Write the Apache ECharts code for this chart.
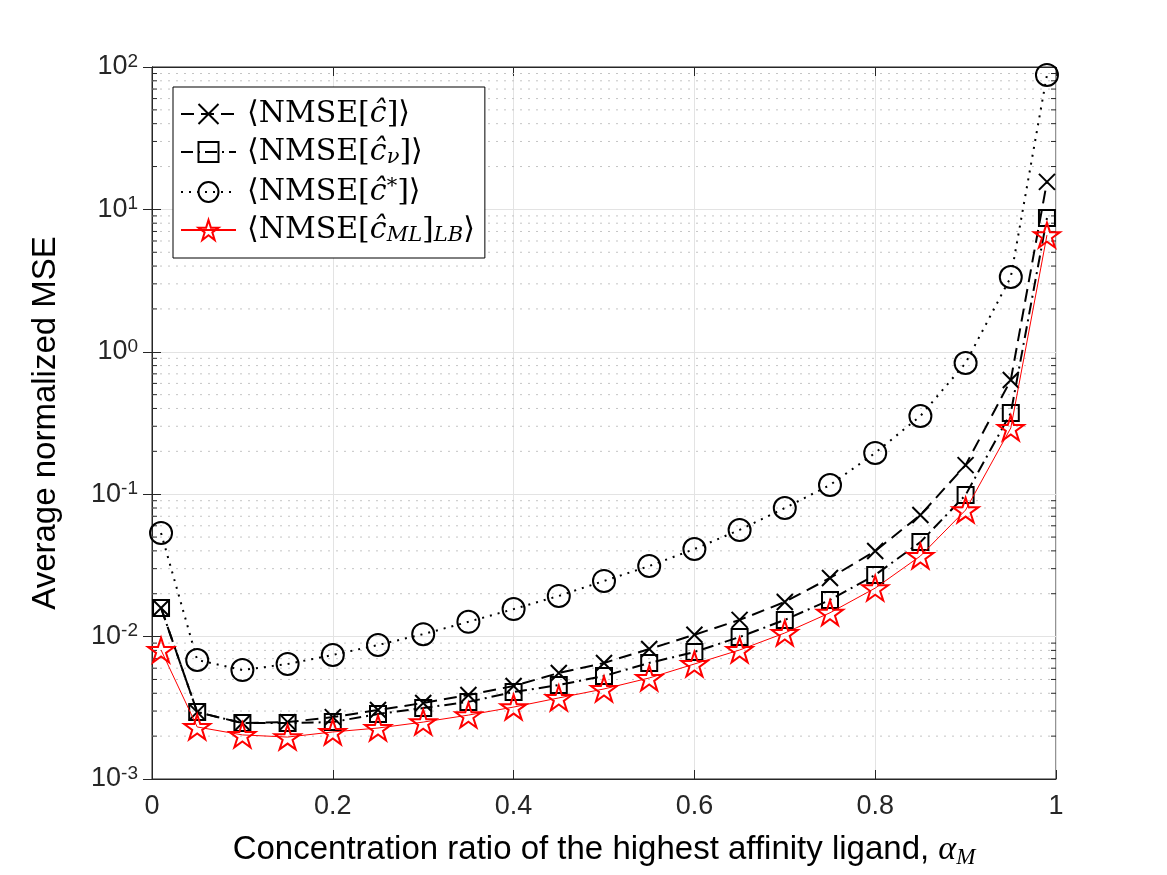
<!DOCTYPE html>
<html>
<head>
<meta charset="utf-8">
<script src="https://cdn.jsdelivr.net/npm/echarts@6/dist/echarts.min.js"></script>
<style>
  html, body { margin: 0; padding: 0; background: #fff; }
  #chart { width: 1167px; height: 875px; }
</style>
</head>
<body>
<div id="chart"></div>
<script>
// alpha_M values (x axis)
const alphaM = [0.01, 0.05, 0.1, 0.15, 0.2, 0.25, 0.3, 0.35, 0.4, 0.45, 0.5,
                0.55, 0.6, 0.65, 0.7, 0.75, 0.8, 0.85, 0.9, 0.95, 0.99];

// <NMSE[c^]>
const nmseC = [0.0159, 0.00295, 0.00247, 0.00251, 0.00272, 0.00305, 0.00342, 0.00389, 0.0045, 0.00555, 0.00653,
               0.00818, 0.0103, 0.0131, 0.0175, 0.0258, 0.0399, 0.0714, 0.160, 0.634, 15.6];
// <NMSE[c^_nu]>
const nmseCnu = [0.0159, 0.00295, 0.00247, 0.00247, 0.00251, 0.00286, 0.00315, 0.00348, 0.00408, 0.00457, 0.00529,
                 0.00653, 0.0078, 0.00993, 0.0131, 0.0181, 0.0271, 0.0461, 0.0987, 0.372, 8.7];
// <NMSE[c^*]>
const nmseCstar = [0.0534, 0.00685, 0.00582, 0.00642, 0.00743, 0.00873, 0.0104, 0.0127, 0.0156, 0.0193, 0.0246,
                   0.0313, 0.0412, 0.0561, 0.080, 0.116, 0.195, 0.354, 0.834, 3.35, 88];
// <NMSE[c^_ML]_LB>
const nmseLB = [0.00805, 0.00232, 0.00204, 0.00197, 0.00214, 0.00228, 0.00251, 0.00281, 0.0032, 0.00371, 0.00429,
                0.00512, 0.00642, 0.00805, 0.0106, 0.0147, 0.0219, 0.0368, 0.0774, 0.292, 6.6];

// y axis range and minor ticks (2..9 of each decade)
const yMin = 0.001, yMax = 100;
const minorTicks = [];
for (let e = -3; e < 2; e++) {
    for (let m = 2; m <= 9; m++) minorTicks.push(m * Math.pow(10, e));
}

const legendLabels = {
    c: '{t|⟨NMSE[}{i|ĉ}{t|]⟩}',
    cnu: '{t|⟨NMSE[}{i|ĉ}{s|ν}{t|]⟩}',
    cstar: '{t|⟨NMSE[}{i|ĉ}{p|*}{t|]⟩}',
    cml: '{t|⟨NMSE[}{i|ĉ}{s|ML}{t|]}{s|LB}{t|⟩}'
};

const crossPath = 'path://M0,0L10,10M0,10L10,0';
const starPath = 'path://M10,0L12.245,6.91L19.511,6.91L13.633,11.18L15.878,18.09L10,13.82L4.122,18.09L6.367,11.18L0.489,6.91L7.755,6.91Z';

const axisColor = '#262626';
const serif = "'DejaVu Serif', 'Liberation Serif', serif";
const mathSerif = "'Liberation Serif', 'DejaVu Serif', serif";
const sans = "'Liberation Sans', Arial, sans-serif";

function pairs(ys) {
    return alphaM.map((x, i) => [x, ys[i]]);
}

let chart = echarts.init(document.getElementById('chart'), null, { renderer: 'canvas' });

let option = {
    animation: false,
    backgroundColor: '#fff',
    grid: {
        left: 152, top: 67, right: 111, bottom: 96,
        show: true, borderColor: axisColor, borderWidth: 1
    },
    legend: {
        orient: 'vertical',
        left: 173, top: 87,
        data: ['c', 'cnu', 'cstar', 'cml'],
        backgroundColor: '#fff',
        borderColor: '#000',
        borderWidth: 1,
        padding: [12, 10, 12, 7],
        itemWidth: 55,
        itemHeight: 25,
        itemGap: 8,
        formatter: name => legendLabels[name],
        textStyle: {
            color: '#000',
            padding: [0, 0, 0, 6],
            rich: {
                t: { fontFamily: serif, fontSize: 30, lineHeight: 32, color: '#000' },
                i: { fontFamily: serif, fontStyle: 'italic', fontSize: 30, lineHeight: 32, color: '#000' },
                s: { fontFamily: serif, fontStyle: 'italic', fontSize: 21, lineHeight: 12, verticalAlign: 'bottom', color: '#000' },
                p: { fontFamily: serif, fontSize: 21, lineHeight: 14, verticalAlign: 'top', color: '#000' }
            }
        }
    },
    xAxis: [{
        type: 'value',
        min: 0, max: 1, interval: 0.2,
        name: '{n|Concentration ratio of the highest affinity ligand, }{a|α}{s|M}',
        nameLocation: 'middle',
        nameGap: 52,
        nameTextStyle: {
            rich: {
                n: { fontFamily: sans, fontSize: 33, color: '#000', lineHeight: 38 },
                a: { fontFamily: mathSerif, fontStyle: 'italic', fontSize: 34, color: '#000', lineHeight: 38 },
                s: { fontFamily: mathSerif, fontStyle: 'italic', fontSize: 23, color: '#000', lineHeight: 16, verticalAlign: 'bottom' }
            }
        },
        axisLine: { lineStyle: { color: axisColor, width: 1 } },
        axisTick: { inside: true, length: 9, lineStyle: { color: axisColor } },
        axisLabel: {
            fontFamily: sans, fontSize: 27, color: axisColor, margin: 14,
            formatter: v => String(Number(v.toFixed(1)))
        },
        splitLine: { show: true, lineStyle: { color: '#e3e3e3', width: 1 } }
    }, {
        type: 'value',
        position: 'top',
        min: 0, max: 1, interval: 0.2,
        axisLine: { lineStyle: { color: axisColor, width: 1 } },
        axisTick: { inside: true, length: 9, lineStyle: { color: axisColor } },
        axisLabel: { show: false },
        splitLine: { show: false }
    }],
    yAxis: [{
        type: 'log',
        logBase: 10,
        min: yMin, max: yMax,
        name: 'Average normalized MSE',
        nameLocation: 'middle',
        nameRotate: 90,
        nameGap: 90,
        nameTextStyle: { fontFamily: sans, fontSize: 33, color: '#000' },
        axisLine: { lineStyle: { color: axisColor, width: 1 } },
        axisTick: { inside: true, length: 9, lineStyle: { color: axisColor } },
        axisLabel: {
            margin: 14,
            formatter: v => '{b|10}{e|' + Math.round(Math.log10(v)) + '}',
            rich: {
                b: { fontFamily: sans, fontSize: 27, color: axisColor, lineHeight: 30 },
                e: { fontFamily: sans, fontSize: 19, color: axisColor, lineHeight: 16, verticalAlign: 'top' }
            }
        },
        splitLine: { show: true, lineStyle: { color: '#e3e3e3', width: 1 } }
    }, {
        type: 'log',
        logBase: 10,
        position: 'right',
        min: yMin, max: yMax,
        axisLine: { lineStyle: { color: axisColor, width: 1 } },
        axisTick: { inside: true, length: 9, lineStyle: { color: axisColor } },
        axisLabel: { show: false },
        splitLine: { show: false }
    }],
    series: [
        {
            // minor dotted grid + minor ticks on the log axis
            type: 'custom',
            name: 'minor',
            silent: true,
            z: 1,
            data: minorTicks.map(v => [0, v]),
            renderItem: (params, api) => {
                const v = api.value(1);
                const pl = api.coord([0, v]);
                const pr = api.coord([1, v]);
                return {
                    type: 'group',
                    children: [{
                        type: 'line',
                        shape: { x1: pl[0], y1: pl[1], x2: pr[0], y2: pr[1] },
                        style: { stroke: '#c4c4c4', lineWidth: 1, lineDash: [2, 6] }
                    }, {
                        type: 'line',
                        shape: { x1: pl[0], y1: pl[1], x2: pl[0] + 5, y2: pl[1] },
                        style: { stroke: axisColor, lineWidth: 1 }
                    }, {
                        type: 'line',
                        shape: { x1: pr[0] - 5, y1: pr[1], x2: pr[0], y2: pr[1] },
                        style: { stroke: axisColor, lineWidth: 1 }
                    }]
                };
            }
        },
        {
            type: 'line',
            name: 'c',
            z: 3,
            data: pairs(nmseC),
            symbol: crossPath,
            symbolSize: 16,
            lineStyle: { color: '#000', width: 2, type: [13, 7] },
            itemStyle: { color: 'none', borderColor: '#000', borderWidth: 2 }
        },
        {
            type: 'line',
            name: 'cnu',
            z: 4,
            data: pairs(nmseCnu),
            symbol: 'rect',
            symbolSize: 16,
            lineStyle: { color: '#000', width: 2, type: [12, 5, 2, 5] },
            itemStyle: { color: 'none', borderColor: '#000', borderWidth: 2 }
        },
        {
            type: 'line',
            name: 'cstar',
            z: 5,
            data: pairs(nmseCstar),
            symbol: 'circle',
            symbolSize: 22,
            lineStyle: { color: '#000', width: 2, type: [2, 6] },
            itemStyle: { color: 'none', borderColor: '#000', borderWidth: 2 }
        },
        {
            type: 'line',
            name: 'cml',
            z: 6,
            data: pairs(nmseLB),
            symbol: starPath,
            symbolKeepAspect: true,
            symbolSize: 26,
            lineStyle: { color: '#ff0000', width: 1 },
            itemStyle: { color: 'none', borderColor: '#ff0000', borderWidth: 2 }
        }
    ]
};

chart.setOption(option);
</script>
</body>
</html>
